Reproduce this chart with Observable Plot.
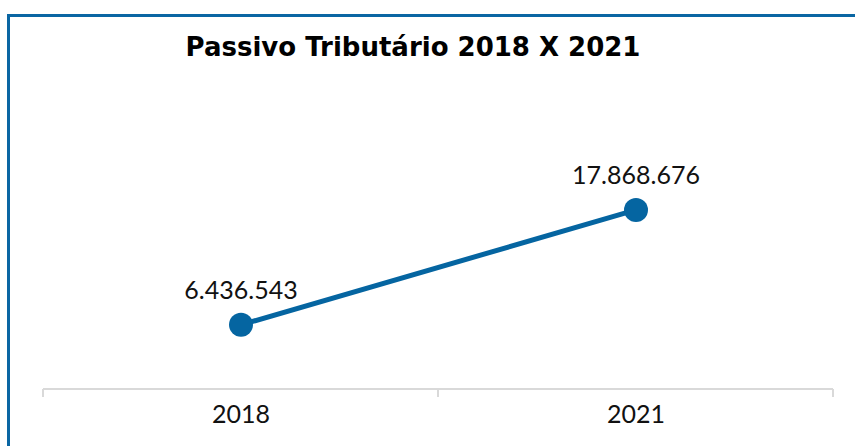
<!DOCTYPE html>
<html><head><meta charset="utf-8">
<script src="https://cdn.jsdelivr.net/npm/d3@7"></script>
<script src="https://cdn.jsdelivr.net/npm/@observablehq/plot@0.6"></script>
<style>
html,body{margin:0;padding:0;background:#fff;}
#wrap{position:relative;width:855px;height:446px;overflow:hidden;}
#frame{position:absolute;left:7px;top:14px;width:900px;height:500px;border-left:3px solid #0a66a3;border-top:3px solid #0a66a3;box-sizing:border-box;}
#title{position:absolute;left:0;top:27px;width:826px;text-align:center;font-family:"DejaVu Sans",sans-serif;font-weight:700;font-size:26px;color:#000;line-height:40px;}
#chart{position:absolute;left:0;top:90px;}
</style></head>
<body>
<div id="wrap"><div id="frame"></div><div id="title">Passivo Tributário 2018 X 2021</div><div id="chart"></div></div>
<script>
const years = ["2018", "2021"];
const values = [6436543, 17868676];
const labels = ["6.436.543", "17.868.676"];
const data = years.map((y, i) => ({year: y, value: values[i], label: labels[i]}));
const blue = "#0565a1";
const font = "Lato, 'Open Sans', sans-serif";

function bandTicks(index, scales, values, dims) {
  const g = d3.create("svg:g");
  const sx = scales.x;
  const bw = sx.bandwidth ? sx.bandwidth() : 0;
  const y0 = dims.height - dims.marginBottom;
  const left = dims.marginLeft, right = dims.width - dims.marginRight;
  g.append("line").attr("x1", left).attr("x2", right).attr("y1", y0).attr("y2", y0)
    .attr("stroke", "#d9d9d9").attr("stroke-width", 2);
  const bounds = [left, ...years.map(d => sx(d) + bw / 2 + (right - left) / years.length / 2)];
  for (const b of bounds) {
    g.append("line").attr("x1", b).attr("x2", b).attr("y1", y0).attr("y2", y0 + 8)
      .attr("stroke", "#d9d9d9").attr("stroke-width", 2);
  }
  return g.node();
}

const chart = Plot.plot({
  width: 855,
  height: 356,
  marginLeft: 43,
  marginRight: 22,
  marginTop: 98,
  marginBottom: 57,
  x: {type: "band", domain: years, padding: 0, axis: null},
  y: {domain: [0, 20000000], axis: null},
  style: {fontFamily: font, background: "transparent", overflow: "visible"},
  marks: [
    bandTicks,
    Plot.text(data, {x: "year", frameAnchor: "bottom", text: "year", dy: 33, fontSize: 25, fill: "#111", fontFamily: font}),
    Plot.line(data, {x: "year", y: "value", stroke: blue, strokeWidth: 5}),
    Plot.dot(data, {x: "year", y: "value", r: 12, fill: blue, stroke: "none"}),
    Plot.text(data, {x: "year", y: "value", text: "label", dy: -34, fontSize: 25, fill: "#111", fontFamily: font})
  ]
});
document.getElementById("chart").appendChild(chart);
</script>
</body></html>
